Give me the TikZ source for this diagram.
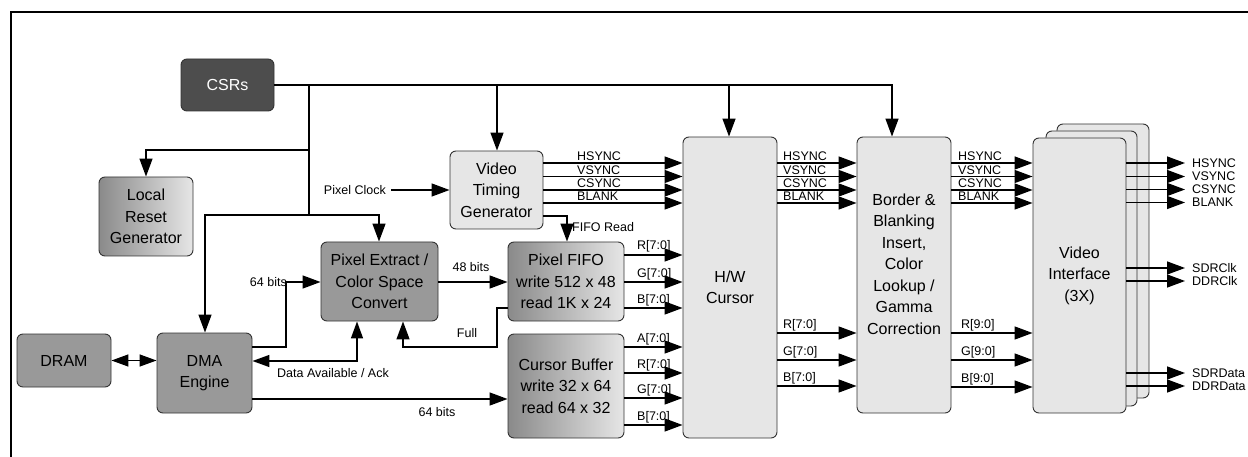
\documentclass[tikz,border=0pt]{standalone}
\usepackage{fontspec}
\setmainfont{Liberation Sans}
\usetikzlibrary{arrows.meta}
\definecolor{dk}{HTML}{4D4D4D}
\definecolor{md}{HTML}{999999}
\definecolor{lt}{HTML}{E6E6E6}
\definecolor{bd}{HTML}{333333}
\definecolor{gl}{HTML}{8A8A8A}
\definecolor{gr}{HTML}{E6E6E6}
\begin{document}
\begin{tikzpicture}[x=1pt,y=-1pt,
  box/.style={draw=bd, line width=0.9pt, rounded corners=6pt, inner sep=0pt, align=center, font=\fontsize{16}{21.5}\selectfont},
  darkbox/.style={box, fill=dk, text=white},
  midbox/.style={box, fill=md},
  lightbox/.style={box, fill=lt},
  gradbox/.style={box, left color=gl, right color=gr},
  wire/.style={line width=1.4pt},
  conn/.style={line width=1.4pt, -{Triangle[length=18pt,width=13pt]}},
  dconn/.style={line width=1.4pt, {Triangle[length=17pt,width=12pt]}-{Triangle[length=17pt,width=12pt]}},
  lbl/.style={font=\fontsize{12.5}{13}\selectfont, inner sep=0pt},
  btxt/.style={font=\fontsize{16}{21.5}\selectfont, align=center, inner sep=0pt},
]
\useasboundingbox (0,0) rectangle (1248,457);
\draw[line width=2pt] (1250,12) -- (11,12) -- (11,460);

% boxes
\node[darkbox, minimum width=93pt, minimum height=52pt] (csr) at (227.5,85) {CSRs};
\node[gradbox, minimum width=94pt, minimum height=79pt] (lrg) at (146,216.5) {Local\\Reset\\Generator};
\node[midbox, minimum width=94pt, minimum height=53pt] (dram) at (64,360.5) {DRAM};
\node[midbox, minimum width=95pt, minimum height=80pt] (dma) at (204.5,373) {DMA\\Engine};
\node[midbox, minimum width=117pt, minimum height=79pt] (pe) at (379.5,281.5) {Pixel Extract /\\Color Space\\Convert};
\node[lightbox, minimum width=93pt, minimum height=78pt] (vtg) at (496.5,190) {Video\\Timing\\Generator};
\node[gradbox, minimum width=116pt, minimum height=79pt] (fifo) at (566,281.5) {Pixel FIFO\\write 512 x 48\\read 1K x 24};
\node[gradbox, minimum width=116pt, minimum height=104pt] (cb) at (566,386) {Cursor Buffer\\write 32 x 64\\read 64 x 32};
\node[lightbox, minimum width=94pt, minimum height=301pt] (hw) at (730,287.5) {H/W\\Cursor};
\node[lightbox, minimum width=94pt, minimum height=276pt] (bb) at (904,275) {};
\node[btxt] (bbt) at (904,264) {Border \&\\Blanking\\Insert,\\Color\\Lookup /\\Gamma\\Correction};
\node[lightbox, minimum width=92pt, minimum height=274pt] (vi3) at (1103,261) {};
\node[lightbox, minimum width=91pt, minimum height=275pt] (vi2) at (1091.5,268.5) {};
\node[lightbox, minimum width=93pt, minimum height=275pt] (vi) at (1079.5,275.5) {Video\\Interface\\(3X)};

% CSR bus
\draw[conn] (csr.east) -- (892,85) -- (892,0 |- bb.north);
\draw[conn] (729,85) -- (729,0 |- hw.north);
\draw[conn] (497,85) -- (497,0 |- vtg.north);
\draw[wire] (309,85) -- (309,215);
\draw[conn] (309,150) -- (146,150) -- (lrg.north);
\draw[conn] (309,215) -- (205,215) -- (205,0 |- dma.north);
\draw[conn] (309,215) -- (379,215) -- (379,0 |- pe.north);

% left side
\draw[dconn] (dram.east) -- (dma.west |- dram.east);
\node[lbl, anchor=east] (l64a) at (287,282) {64 bits};
\draw[conn] (dma.east |- 0,347) -- (286,347) -- (286,282) -- (pe.west |- 0,282);
\draw[dconn] (dma.east |- 0,361) -- (357,361) -- (357,0 |- pe.south);
\node[lbl] (lda) at (333,373) {Data Available / Ack};
\draw[conn] (dma.east |- 0,399) -- (cb.west |- 0,399);
\node[lbl] (l64b) at (437,412) {64 bits};
\draw[conn] (pe.east |- 0,282) -- (fifo.west |- 0,282);
\node[lbl] (l48) at (471,267) {48 bits};
\draw[conn] (fifo.west |- 0,308) -- (497,308) -- (497,347) -- (403,347) -- (403,0 |- pe.south);
\node[lbl] (lfull) at (467,333) {Full};
\node[lbl, anchor=east] (pclk) at (386,190) {Pixel Clock};
\draw[conn] ([xshift=5pt]pclk.east) -- (vtg.west);
\draw[conn] (vtg.east |- 0,216) -- (567,216) -- (567,0 |- fifo.north);
\node[lbl, anchor=west] (lfr) at (572,227) {FIFO Read};

% sync lines
\foreach \y/\t in {163/HSYNC,176.5/VSYNC,190/CSYNC,203/BLANK}{
  \draw[conn] (vtg.east |- 0,\y) -- (hw.west |- 0,\y);
  \node[lbl, anchor=base west] (sa-\t) at (577,\y-2) {\t};
  \draw[conn] (hw.east |- 0,\y) -- (bb.west |- 0,\y);
  \node[lbl, anchor=base west] (sb-\t) at (783,\y-2) {\t};
  \draw[conn] (bb.east |- 0,\y) -- (vi.west |- 0,\y);
  \node[lbl, anchor=base west] (sc-\t) at (958,\y-2) {\t};
}
% FIFO outputs
\foreach \y/\t/\n in {255/R[7:0]/r,282/G[7:0]/g,308/B[7:0]/b}{
  \draw[conn] (fifo.east |- 0,\y) -- (hw.west |- 0,\y);
  \node[lbl, anchor=base west] (fo-\n) at (637,\y-5) {\t};
}
\foreach \y/\t/\n in {347/A[7:0]/a,373/R[7:0]/r,398/G[7:0]/g,425/B[7:0]/b}{
  \draw[conn] (cb.east |- 0,\y) -- (hw.west |- 0,\y);
  \node[lbl, anchor=base west] (co-\n) at (637,\y-5) {\t};
}
\foreach \y/\t/\n in {333/R[7:0]/r,360/G[7:0]/g,386/B[7:0]/b}{
  \draw[conn] (hw.east |- 0,\y) -- (bb.west |- 0,\y);
  \node[lbl, anchor=base west] (ho-\n) at (783,\y-5) {\t};
}
\foreach \y/\t/\n in {333/R[9:0]/r,360/G[9:0]/g,387/B[9:0]/b}{
  \draw[conn] (bb.east |- 0,\y) -- (vi.west |- 0,\y);
  \node[lbl, anchor=base west] (bo-\n) at (961,\y-5) {\t};
}
% outputs
\foreach \y/\t in {163/HSYNC,176.5/VSYNC,189.5/CSYNC,202.5/BLANK,268/SDRClk,281/DDRClk,373/SDRData,386/DDRData}{
  \node[lbl, anchor=west] (out-\t) at (1192,\y) {\t};
  \draw[conn] (vi.east |- 0,\y) -- ([xshift=-7pt]out-\t.west);
}
\end{tikzpicture}
\end{document}
